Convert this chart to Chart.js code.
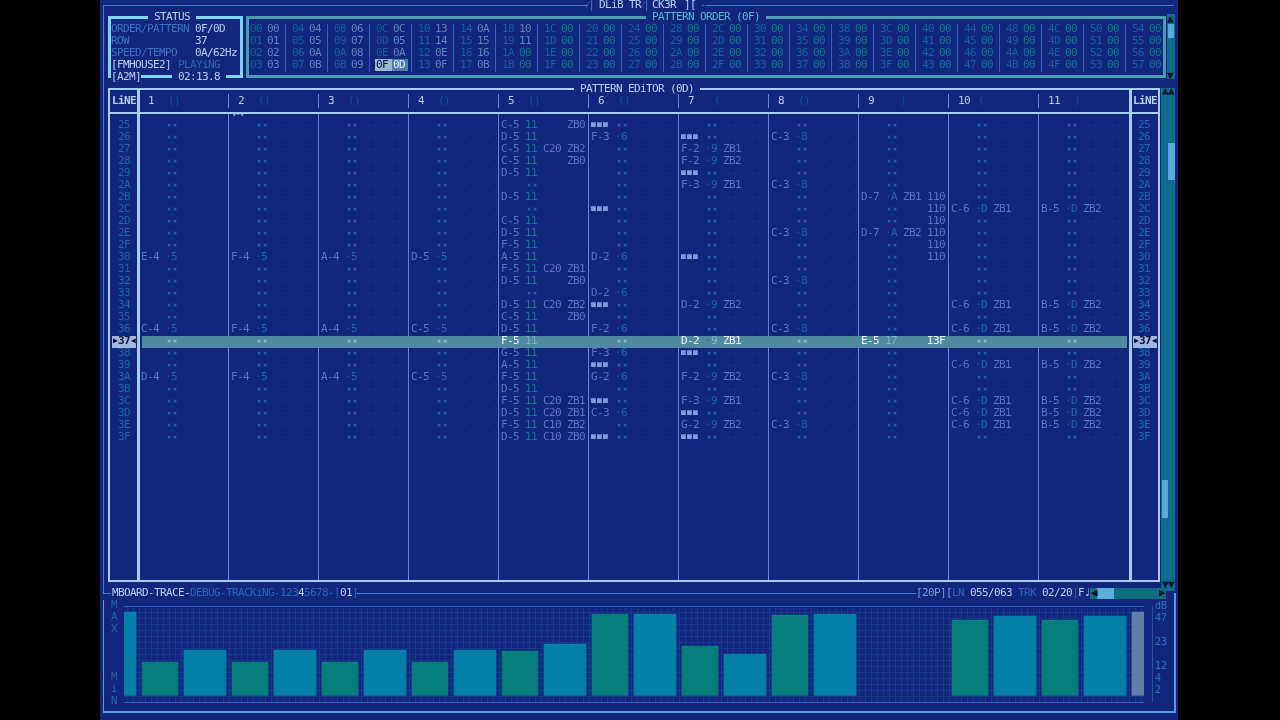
<!DOCTYPE html>
<html><head><meta charset="utf-8">
<script src="https://cdn.jsdelivr.net/npm/chart.js@4"></script>
<style>
html,body{margin:0;padding:0;background:#000;width:1280px;height:720px;overflow:hidden}
#scr{position:absolute;left:100px;top:0;width:1078px;height:720px;background:#11267c;overflow:hidden}
#root{position:absolute;left:0;top:0;width:1280px;height:720px;filter:blur(.4px)}
.t{position:absolute;font:11px/12px "DejaVu Sans Mono",monospace;letter-spacing:-.62px;white-space:pre}
.r{position:absolute;box-sizing:border-box}
canvas{position:absolute;left:100px;top:600px}
</style></head><body>
<div id="root"><div id="scr"></div><div id="ui"></div>
<canvas id="c" width="1078" height="112"></canvas></div>
<script>
/* ---- meter data ---- */
const channels=['1','2','3','4','5','6','7','8','9','10','11'];
const levelA=[34,34,34,34,45,82,50,81,0,76,76];
const levelB=[46,46,46,46,52,82,42,82,0,80,80];
const meterLeft=[84];
const meterRight=[84];
const dbTicks={6:'2',18:'4',30:'12',54:'23',78:'47',90:'dB'};
/* ---- tracker data ---- */
const rows=['25','26','27','28','29','2A','2B','2C','2D','2E','2F','30','31','32','33','34','35','36','37','38','39','3A','3B','3C','3D','3E','3F'];
const instruments=['5','5','5','5','11','6','9','8','A','D','D'];
const headerMarks=['()','()','()','()','()','()',' (','()','  )','( ',' )'];
const ch1=['30 E-4','36 C-4','3A D-4'];
const ch2=['30 F-4','36 F-4','3A F-4'];
const ch3=['30 A-4','36 A-4','3A A-4'];
const ch4=['30 D-5','36 C-5','3A C-5'];
const ch5=['25 C-5 . ZB0','26 D-5','27 C-5 C20 ZB2','28 C-5 . ZB0','29 D-5','2B D-5','2D C-5','2E D-5','2F F-5','30 A-5','31 F-5 C20 ZB1','32 D-5 . ZB0','34 D-5 C20 ZB2','35 C-5 . ZB0','36 D-5','37 F-5','38 G-5','39 A-5','3A F-5','3B D-5','3C F-5 C20 ZB1','3D D-5 C20 ZB1','3E F-5 C10 ZB2','3F D-5 C10 ZB0'];
const ch6=['25 ■■■','26 F-3','2C ■■■','30 D-2','33 D-2','34 ■■■','36 F-2','38 F-3','39 ■■■','3A G-2','3C ■■■','3D C-3','3F ■■■'];
const ch7=['26 ■■■','27 F-2 ZB1','28 F-2 ZB2','29 ■■■','2A F-3 ZB1','30 ■■■','34 D-2 ZB2','37 D-2 ZB1','38 ■■■','3A F-2 ZB2','3C F-3 ZB1','3D ■■■','3E G-2 ZB2','3F ■■■'];
const ch8=['26 C-3','2A C-3','2E C-3','32 C-3','36 C-3','3A C-3','3E C-3'];
const ch9=['2B D-7 ZB1 110','2C --- . 110','2D --- . 110','2E D-7 ZB2 110','2F --- . 110','30 --- . 110','37 E-5 . I3F'];
const ch10=['2C C-6 ZB1','34 C-6 ZB1','36 C-6 ZB1','39 C-6 ZB1','3C C-6 ZB1','3D C-6 ZB1','3E C-6 ZB1'];
const ch11=['2C B-5 ZB2','34 B-5 ZB2','36 B-5 ZB2','39 B-5 ZB2','3C B-5 ZB2','3D B-5 ZB2','3E B-5 ZB2'];
const orderPatterns=['00','01','02','03','04','05','0A','0B','06','07','08','09','0C','05','0A','0D','13','14','0E','0F','0A','15','16','0B','10','11','00','00'];
const statusLabels=['ORDER/PATTERN','ROW','SPEED/TEMPO'];
const statusValues=['0F/0D','37','0A/62Hz'];

const ui=document.getElementById('ui');
function T(x,y,s,c,extra){const d=document.createElement('div');d.className='t';d.textContent=s;d.style.left=x+'px';d.style.top=(y-6)+'px';d.style.color=c;if(extra)d.style.cssText+=';'+extra;ui.appendChild(d);return d}
function R(x,y,w,h,css){const d=document.createElement('div');d.className='r';d.style.cssText+=`left:${x}px;top:${y}px;width:${w}px;height:${h}px;`+css;ui.appendChild(d);return d}
const BG='#11267c',NOTE='#5672c4',DOT='#1a5aa8',INST='#1468ac',TEAL='#0a7f92',DIM='#1a66ae',EDGE='#a8cdf5',SEP='#6484d8',LT='#b8cef0',FRAME='#3f7cd0';
const SQ='font-size:8px;letter-spacing:1.18px';
const DOTS='font-size:7px;letter-spacing:1.8px';

/* outer frame */
R(103,5,1,589,'background:'+FRAME);
R(103,5,484,1,'background:'+FRAME);
R(706,5,468,1,'background:'+FRAME);
T(587,5,'⁄│',FRAME);T(599,5,'DLiB TR',LT);T(642,5,'⁄│',FRAME);T(652,5,'CK3R',LT);T(684,5,'][',LT);T(700,5,'-',FRAME);
R(103,593,8,1,'background:'+FRAME);
/* status box */
R(108,16,135,62,'border:3px solid #7fd4ee');
T(148,17,' STATUS ',LT,'background:'+BG);
statusLabels.forEach((l,i)=>{T(111,29+12*i,l,'#3a74c0');T(195,29+12*i,statusValues[i],LT)});
T(111,65,'[FMHOUSE2]',LT);T(178,65,'PLAYiNG','#2a62ac');
T(111,77,'[A2M]',LT,'background:'+BG);T(172,77,' 02:13.8 ',LT,'background:'+BG);
/* order box */
R(246,16,920,62,'border:3px solid #4b9cb0');
T(646,17,' PATTERN ORDER (0F) ','#58b4d0','background:'+BG);
for(let g=0;g<22;g++){
  const gx=250+42*g;
  if(g<21)R(gx+35,24,1,48,'background:#3560c0');
  for(let r=0;r<4;r++){
    const n=g*4+r,hex=n.toString(16).toUpperCase().padStart(2,'0');
    const val=n<orderPatterns.length?orderPatterns[n]:'00';
    const zero=val=='00'&&n>3;
    if(n==15){R(gx-1,r*12+23,17,12,'background:#9ab4d4');R(gx+16,r*12+23,16,12,'background:#4f80a8');T(gx,29+r*12,hex,'#06122e');T(gx+17,29+r*12,val,'#e0ecfa');continue}
    T(gx,29+r*12,hex,'#125f99');T(gx+17,29+r*12,val,zero?'#087c88':'#5c82bc');
  }
}
/* order scrollbar */
R(1167,14,8,65,'background:#0f6d8c');R(1168,24,6,14,'background:#5aa8d8');
T(1167,19,'▲','#06122e');T(1167,76,'▼','#06122e');
/* editor scrollbar */
R(1161,88,14,503,'background:#0f6d8c');
R(1168,143,7,37,'background:#5aa8d8');R(1162,480,6,38,'background:#5aa8d8');
T(1162,91,'▲▲','#06122e');T(1162,585,'▼▼','#06122e');
/* editor */
R(108,88,1052,494,'border:2px solid '+EDGE);
T(574,89,' PATTERN EDiTOR (0D) ',LT,'background:'+BG);
R(108,112,1052,2,'background:'+EDGE);
R(137,90,3,490,'background:'+EDGE);R(1129,90,3,490,'background:'+EDGE);
T(112,101,'LiNE',LT,'font-weight:bold');T(1133,101,'LiNE',LT,'font-weight:bold');
T(232,115,'▾-▾','#8ab4e8','font-size:8px;letter-spacing:-1px');
channels.forEach((c,i)=>{
  const L=138+90*i;
  if(i>0){R(L,94,1,14,'background:'+SEP);R(L,114,1,466,'background:'+SEP)}
  T(L+10,101,c,LT);
  T(L+30,101,headerMarks[i],'#16509c');
});
/* play row */
R(142,336,985,12,'background:#4f8a9e');
R(112,336,24,12,'background:#a0b8e0');R(1133,336,24,12,'background:#a0b8e0');
[113,1134].forEach(x=>{T(x,341,'▶','#06122e','font-size:8px');T(x+5,341,'37','#06122e','font-weight:bold');T(x+18,341,'◀','#06122e','font-size:8px')});
rows.forEach((r,i)=>{
  if(r=='37')return;
  T(118,125+12*i,r,DIM);T(1138,125+12*i,r,DIM);
});
/* pattern cells */
[ch1,ch2,ch3,ch4,ch5,ch6,ch7,ch8,ch9,ch10,ch11].forEach((ch,ci)=>{
  const L=138+90*ci,map={};
  ch.forEach(e=>{const p=e.split(' ');map[p[0]]=p.slice(1)});
  rows.forEach((r,ri)=>{
    const y=125+12*ri,e=map[r],play=r=='37';
    let note=e?e[0]:null,fx=e?e.slice(1):[];
    const hasNote=note&&note!='---'&&note!='■■■';
    if(note&&note!='---')T(L+3,y,note,play?'#f0f6ff':(note=='■■■'?'#7f9adc':NOTE),note=='■■■'?SQ:'');
    if(hasNote){
      let inst=instruments[ci];
      if(r=='37'&&ci==8)inst='17';
      if(inst.length==2)T(L+27,y,inst,play?'#7fb4c4':TEAL);
      else{T(L+27,y,'·',DOT);T(L+33,y,inst,play?'#7fb4c4':INST)}
    }else T(L+29,y,'▪▪',play?'#7fb4c4':DOT,DOTS);
    if(fx.length==2){
      if(fx[0]!='.')T(L+45,y,fx[0],NOTE);
      T(L+69,y,fx[1],play?'#f0f6ff':NOTE);
    }else if(fx.length==1){
      T(L+(ci==4?69:45),y,fx[0],play?'#f0f6ff':NOTE);
    }else if(ci!=4&&!play){
      T(L+48,y,'--','#1c3792');T(L+72,y,'--','#1c3792');
    }
  });
});
/* status strip */
T(112,593,'MBOARD-TRACE-',LT);T(190,593,'DEBUG-TRACKiNG-123','#2666b4');T(298,593,'4',LT);T(304,593,'5678-[','#2666b4');T(340,593,'01',LT);T(352,593,']','#2666b4');
R(357,593,559,1,'background:'+FRAME);
T(916,593,'[20P][','#7a9ed8');T(952,593,'LN','#2666b4');T(970,593,'055/063',LT);T(1018,593,'TRK','#2666b4');T(1042,593,'02/20',LT);T(1072,593,']','#2666b4');T(1078,593,'F♩↓',LT);
R(1090,588,76,11,'background:#0f6d80');R(1097,588,17,11,'background:#5ab0d8');
T(1091,593,'◀','#06122e');T(1159,593,'▶','#06122e');
/* meter frame and side labels */
R(103,600,1,112,'background:#5a98e0');R(103,711,1072,2,'background:#5a98e0');R(1174,593,2,120,'background:#5a98e0');
R(1152,606,1,96,'background:#24509c');
[['M',605],['A',617],['X',629],['M',677],['i',689],['N',701]].forEach(p=>T(111,p[1],p[0],'#2562a0'));
/* chart */
const slot=i=>6+15*i;
const pts=(arr,pos)=>arr.map((v,i)=>({x:pos(i),y:v>0?v:null}));
const noPad=s=>{s.paddingTop=s.paddingBottom=s.paddingLeft=s.paddingRight=0};
const chart=new Chart(document.getElementById('c'),{
  type:'bar',
  data:{datasets:[
    {label:'Left',data:pts(meterLeft,()=>1),backgroundColor:'#0480a8',barThickness:12},
    {label:'A',data:pts(levelA,slot),backgroundColor:'#057e7c',barThickness:36},
    {label:'B',data:pts(levelB,i=>slot(i)+7.5),backgroundColor:'#0480a8',barThickness:42},
    {label:'Right',data:pts(meterRight,()=>169),backgroundColor:'#6080a8',barThickness:12}
  ]},
  options:{
    responsive:false,animation:false,devicePixelRatio:1,
    layout:{padding:{left:24,right:0,top:6,bottom:10}},
    plugins:{legend:{display:false},tooltip:{enabled:false}},
    datasets:{bar:{grouped:false}},
    scales:{
      x:{type:'linear',offset:false,min:0,max:170,afterFit:s=>{noPad(s);s.height=0},
        ticks:{display:false,stepSize:1,autoSkip:false,maxTicksLimit:200},
        grid:{color:'#1a3790',drawTicks:false},border:{display:false}},
      y:{position:'right',min:-6,max:90,afterFit:s=>{noPad(s);s.width=34},
        ticks:{stepSize:6,autoSkip:false,padding:11,color:'#2470bc',font:{family:'DejaVu Sans Mono',size:10},
          callback:v=>dbTicks[v]||''},
        grid:{drawTicks:false,color:c=>(c.tick&&(c.tick.value==-6||c.tick.value==90))?'#2a5cc0':'#1a3790'},border:{display:false}}
    }
  }
});
</script></body></html>
